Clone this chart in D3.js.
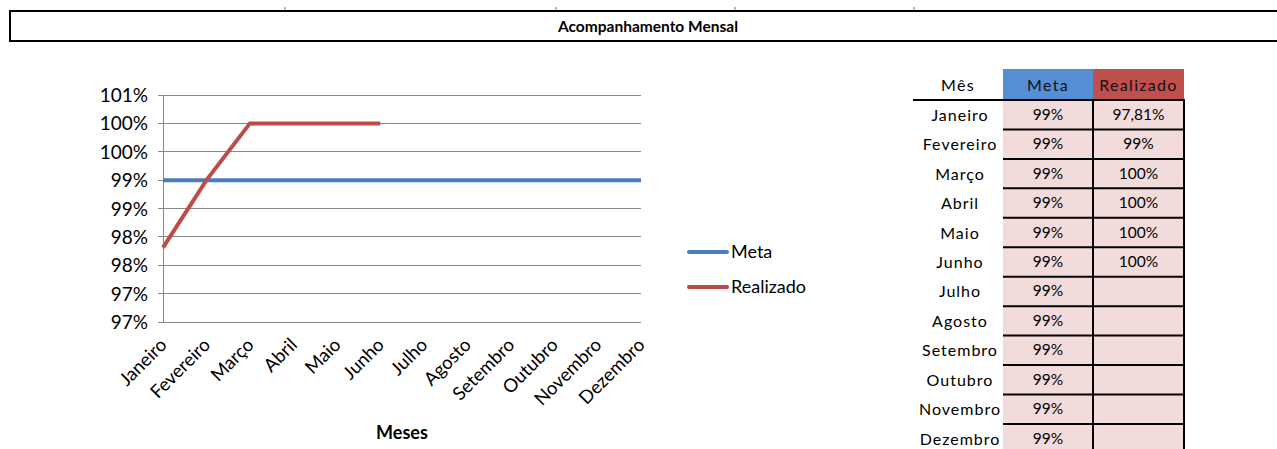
<!DOCTYPE html>
<html><head><meta charset="utf-8">
<script src="https://cdn.jsdelivr.net/npm/d3@7"></script>
<style>
body{margin:0;background:#fff;}
svg{display:block;font-family:Lato,"Open Sans",sans-serif;}
</style></head><body>
<svg id="c" width="1277" height="449"></svg>
<script>
const months = ["Janeiro","Fevereiro","Março","Abril","Maio","Junho","Julho","Agosto","Setembro","Outubro","Novembro","Dezembro"];
const meta = [99,99,99,99,99,99,99,99,99,99,99,99];
const realizado = [97.81,99,100,100,100,100];
const metaLabels = ["99%","99%","99%","99%","99%","99%","99%","99%","99%","99%","99%","99%"];
const realizadoLabels = ["97,81%","99%","100%","100%","100%","100%","","","","","",""];
const yTicks = [96.5,97,97.5,98,98.5,99,99.5,100,100.5];
const yTickLabels = ["97%","97%","98%","98%","99%","99%","100%","100%","101%"];
const tableHeaders = ["Mês","Meta","Realizado"];
const sheetTicks = [285,556,735,914];

const svg = d3.select("#c");
const metaColor = "#4a7ebb", realColor = "#be4b48";

// sheet tick marks & title box
sheetTicks.forEach(x=>svg.append("line").attr("x1",x).attr("x2",x).attr("y1",7).attr("y2",11).attr("stroke","#777").attr("stroke-width",1));
svg.append("rect").attr("x",10).attr("y",11).attr("width",1280).attr("height",30).attr("fill","#fff").attr("stroke","#000").attr("stroke-width",2);
svg.append("text").attr("x",648).attr("y",32).attr("text-anchor","middle").attr("font-size",15.5).attr("font-weight","bold").text("Acompanhamento Mensal");

// chart
const x = d3.scalePoint().domain(months).range([163,641]);
const y = d3.scaleLinear().domain([96.5,100.5]).range([322,95]);

const g = svg.append("g");
g.selectAll(".grid").data(yTicks).join("line")
  .attr("x1",158).attr("x2",641).attr("y1",d=>y(d)).attr("y2",d=>y(d))
  .attr("stroke","#898989").attr("stroke-width",1).attr("shape-rendering","crispEdges");
g.append("line").attr("x1",163).attr("x2",163).attr("y1",95).attr("y2",322).attr("stroke","#898989").attr("shape-rendering","crispEdges");
g.selectAll(".yl").data(yTicks).join("text")
  .attr("x",148).attr("y",d=>y(d)+7).attr("text-anchor","end").attr("font-size",19).attr("fill","#000")
  .text((d,i)=>yTickLabels[i]);

const line = d3.line().x((d,i)=>x(months[i])).y(d=>y(d));
g.append("path").datum(meta).attr("d",line).attr("fill","none").attr("stroke",metaColor).attr("stroke-width",4);
g.append("path").datum(realizado).attr("d",line).attr("fill","none").attr("stroke",realColor).attr("stroke-width",4).attr("stroke-linejoin","miter");

g.selectAll(".xl").data(months).join("text")
  .attr("transform",d=>`translate(${x(d)+5},${346}) rotate(-45)`)
  .attr("text-anchor","end").attr("font-size",18.5).attr("fill","#000").text(d=>d);
g.append("text").attr("x",402).attr("y",439).attr("text-anchor","middle").attr("font-size",18).attr("font-weight","bold").text("Meses");

// legend
const leg = [["Meta",metaColor,252],["Realizado",realColor,287]];
leg.forEach(([t,c,yy])=>{
  svg.append("line").attr("x1",689).attr("x2",727).attr("y1",yy).attr("y2",yy).attr("stroke",c).attr("stroke-width",4).attr("stroke-linecap","round");
  svg.append("text").attr("x",731).attr("y",yy+6).attr("font-size",18).text(t);
});

// table
const colX = [913,1003,1093,1184];
const rowTop = 100, rowH = 29.45, headTop = 69;
const tb = svg.append("g");
tb.append("rect").attr("x",colX[1]).attr("y",headTop).attr("width",colX[2]-colX[1]).attr("height",rowTop-headTop).attr("fill","#558ed5");
tb.append("rect").attr("x",colX[2]).attr("y",headTop).attr("width",colX[3]-colX[2]).attr("height",rowTop-headTop).attr("fill","#c0504d");
tableHeaders.forEach((h,i)=>{
  tb.append("text").attr("x",(colX[i]+colX[i+1])/2).attr("y",headTop+22).attr("text-anchor","middle")
    .attr("letter-spacing",1.3).attr("font-size",16).attr("fill",i==0?"#000":"#111").text(h);
});
tb.selectAll(".cell").data(months).join("rect")
  .attr("x",colX[1]).attr("y",(d,i)=>rowTop+i*rowH).attr("width",colX[3]-colX[1]).attr("height",rowH).attr("fill","#f2dcdb");
// borders
tb.append("line").attr("x1",colX[0]).attr("x2",colX[3]+1).attr("y1",rowTop).attr("y2",rowTop).attr("stroke","#000").attr("stroke-width",2);
months.forEach((m,i)=>{
  if(i>0) tb.append("line").attr("x1",colX[1]).attr("x2",colX[3]+1).attr("y1",rowTop+i*rowH).attr("y2",rowTop+i*rowH).attr("stroke","#000").attr("stroke-width",2);
});
[colX[2],colX[3]].forEach(xx=>tb.append("line").attr("x1",xx).attr("x2",xx).attr("y1",rowTop).attr("y2",449).attr("stroke","#000").attr("stroke-width",2));
months.forEach((m,i)=>{
  const cy = rowTop+i*rowH+rowH/2+6;
  tb.append("text").attr("x",(colX[0]+colX[1])/2+2).attr("y",cy).attr("text-anchor","middle").attr("letter-spacing",1).attr("font-size",16).text(m);
  tb.append("text").attr("x",(colX[1]+colX[2])/2).attr("y",cy-1).attr("text-anchor","middle").attr("font-size",15.5).text(metaLabels[i]);
  tb.append("text").attr("x",(colX[2]+colX[3])/2).attr("y",cy-1).attr("text-anchor","middle").attr("font-size",15.5).text(realizadoLabels[i]);
});
</script></body></html>
